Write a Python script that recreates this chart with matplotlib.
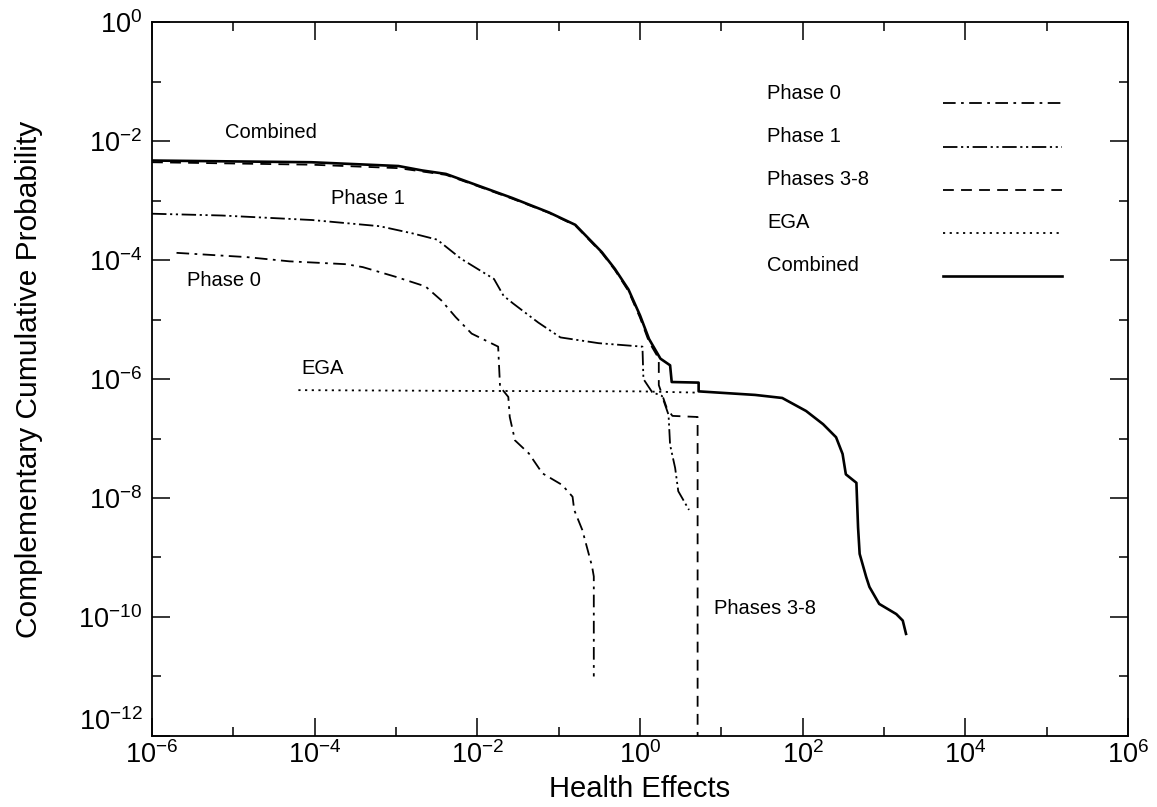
import matplotlib
matplotlib.use("Agg")
import matplotlib.pyplot as plt
from matplotlib.ticker import FixedLocator, NullFormatter

plt.rcParams['font.family'] = ['Liberation Sans', 'DejaVu Sans']

# --- data ---
combined_x = [1e-6, 9.1e-5, 1.07e-3, 2.1e-3, 4.1e-3, 8.5e-3, 2.7e-2, 7.6e-2, 0.16, 0.34,
              0.49, 0.72, 1.0, 1.29, 1.78, 2.34, 2.45, 5.25, 5.25, 26, 56, 110, 178, 257,
              309, 339, 457, 479, 501, 603, 661, 871, 1413, 1698, 1862]
combined_y = [4.7e-3, 4.4e-3, 3.8e-3, 3.2e-3, 2.8e-3, 1.95e-3, 1.1e-3, 6.3e-4, 3.9e-4, 1.35e-4,
              7.1e-5, 3.2e-5, 1.17e-5, 4.7e-6, 2.2e-6, 1.7e-6, 8.9e-7, 8.7e-7, 6.2e-7, 5.4e-7,
              4.8e-7, 2.9e-7, 1.74e-7, 1.05e-7, 5.5e-8, 2.5e-8, 1.8e-8, 3.2e-9, 1.15e-9, 4.7e-10,
              3.2e-10, 1.66e-10, 1.12e-10, 8.7e-11, 5.2e-11]

phase1_x = [1e-6, 7.2e-6, 9.3e-5, 6.3e-4, 1.6e-3, 3.2e-3, 6.3e-3, 1.6e-2, 2.1e-2, 2.75e-2,
            5.6e-2, 0.105, 0.31, 1.07, 1.1, 1.41, 1.86, 2.24, 2.34, 2.7, 2.95, 4.0]
phase1_y = [6.0e-4, 5.6e-4, 4.7e-4, 3.7e-4, 2.8e-4, 2.2e-4, 1.05e-4, 4.8e-5, 2.5e-5, 1.86e-5,
            8.9e-6, 5.0e-6, 4.0e-6, 3.5e-6, 1.0e-6, 6.0e-7, 5.2e-7, 2.5e-7, 7.8e-8, 3.2e-8,
            1.3e-8, 6.3e-9]

phase0_x = [2.0e-6, 1.45e-5, 4.9e-5, 2.45e-4, 3.9e-4, 1.0e-3, 2.3e-3, 3.6e-3, 5.4e-3, 8.5e-3,
            1.8e-2, 1.9e-2, 2.4e-2, 2.5e-2, 2.9e-2, 4.3e-2, 6.3e-2, 0.11, 0.148, 0.155,
            0.195, 0.257, 0.27, 0.27]
phase0_y = [1.32e-4, 1.12e-4, 9.5e-5, 8.5e-5, 7.6e-5, 5.2e-5, 3.6e-5, 2.1e-5, 1.1e-5, 5.8e-6,
            3.5e-6, 7.4e-7, 5.0e-7, 2.3e-7, 9.3e-8, 5.6e-8, 2.6e-8, 1.66e-8, 1.05e-8, 6.3e-9,
            2.9e-9, 7.1e-10, 4.8e-10, 1.0e-11]

phases38_x = [1e-6, 9.1e-5, 1.07e-3, 4.1e-3, 8.5e-3, 2.7e-2, 7.6e-2, 0.16, 0.34, 0.49,
              0.72, 1.0, 1.29, 1.7, 1.7, 2.14, 2.5, 5.1, 5.1]
phases38_y = [4.4e-3, 4.0e-3, 3.5e-3, 2.7e-3, 1.9e-3, 1.07e-3, 6.2e-4, 3.8e-4, 1.3e-4, 6.8e-5,
              3.0e-5, 1.07e-5, 4.2e-6, 2.2e-6, 7.9e-7, 3.2e-7, 2.4e-7, 2.3e-7, 1e-13]

ega_x = [6.3e-5, 1e-2, 1.0, 5.2]
ega_y = [6.5e-7, 6.3e-7, 6.2e-7, 5.9e-7]

major_ticks = [1e-6, 1e-4, 1e-2, 1e0, 1e2, 1e4, 1e6]
minor_ticks_x = [1e-5, 1e-3, 1e-1, 1e1, 1e3, 1e5]
y_major = [1e-12, 1e-10, 1e-8, 1e-6, 1e-4, 1e-2, 1e0]
y_minor = [1e-11, 1e-9, 1e-7, 1e-5, 1e-3, 1e-1]

fig = plt.figure(figsize=(11.57, 8.07), dpi=100)
ax = fig.add_axes([0.1314, 0.088, 0.8436, 0.8847])

series = [
    ("Phase 0", phase0_x, phase0_y, (0, (7, 3, 1.5, 3)), 1.3),
    ("Phase 1", phase1_x, phase1_y, (0, (8, 2, 1.2, 2, 1.2, 2)), 1.3),
    ("Phases 3-8", phases38_x, phases38_y, (0, (6, 4)), 1.3),
    ("EGA", ega_x, ega_y, (0, (1.2, 2.5)), 1.3),
    ("Combined", combined_x, combined_y, "-", 1.9),
]

for label, xs, ys, ls, lw in series:
    ax.plot(xs, ys, color="black", linestyle=ls, linewidth=lw)

ax.set_xscale("log")
ax.set_yscale("log")
ax.set_xlim(1e-6, 1e6)
ax.set_ylim(1e-12, 1e0)

ax.xaxis.set_major_locator(FixedLocator(major_ticks))
ax.xaxis.set_minor_locator(FixedLocator(minor_ticks_x))
ax.yaxis.set_major_locator(FixedLocator(y_major))
ax.yaxis.set_minor_locator(FixedLocator(y_minor))
ax.xaxis.set_minor_formatter(NullFormatter())
ax.yaxis.set_minor_formatter(NullFormatter())

ax.tick_params(which="both", direction="in", top=True, right=True, width=1.1, labelsize=19.5)
ax.tick_params(which="major", length=13)
ax.tick_params(axis="x", which="major", pad=4)
ax.tick_params(axis="y", which="major", pad=7)
ax.tick_params(which="minor", length=6.5)
for sp in ax.spines.values():
    sp.set_linewidth(1.3)

# lowest y label sits a little above its tick, clear of the 10^-6 x label
ax.yaxis.get_major_ticks()[0].label1.set_verticalalignment("bottom")

ax.set_xlabel("Health Effects", fontsize=21)
ax.set_ylabel("Complementary Cumulative Probability", fontsize=21.5)
ax.xaxis.set_label_coords(0.5, -0.054)
ax.yaxis.set_label_coords(-0.112, 0.5)

# curve labels
ax.text(7.9e-6, 1.4e-2, "Combined", fontsize=14.5, va="center")
ax.text(1.6e-4, 1.07e-3, "Phase 1", fontsize=14.5, va="center")
ax.text(2.7e-6, 4.5e-5, "Phase 0", fontsize=14.5, va="center")
ax.text(6.9e-5, 1.5e-6, "EGA", fontsize=14.5, va="center")
ax.text(8.1, 1.4e-10, "Phases 3-8", fontsize=14.5, va="center")

# legend drawn by hand: text on the left, sample line on the right
for i, (label, xs, ys, ls, lw) in enumerate(series):
    ty = 0.900 - i * 0.0604
    ax.text(0.630, ty, label, transform=ax.transAxes, fontsize=14.5, va="center")
    ax.plot([0.81, 0.932], [ty - 0.014, ty - 0.014], transform=ax.transAxes,
            color="black", linestyle=ls, linewidth=lw)

fig.savefig("out.png", dpi=100)
